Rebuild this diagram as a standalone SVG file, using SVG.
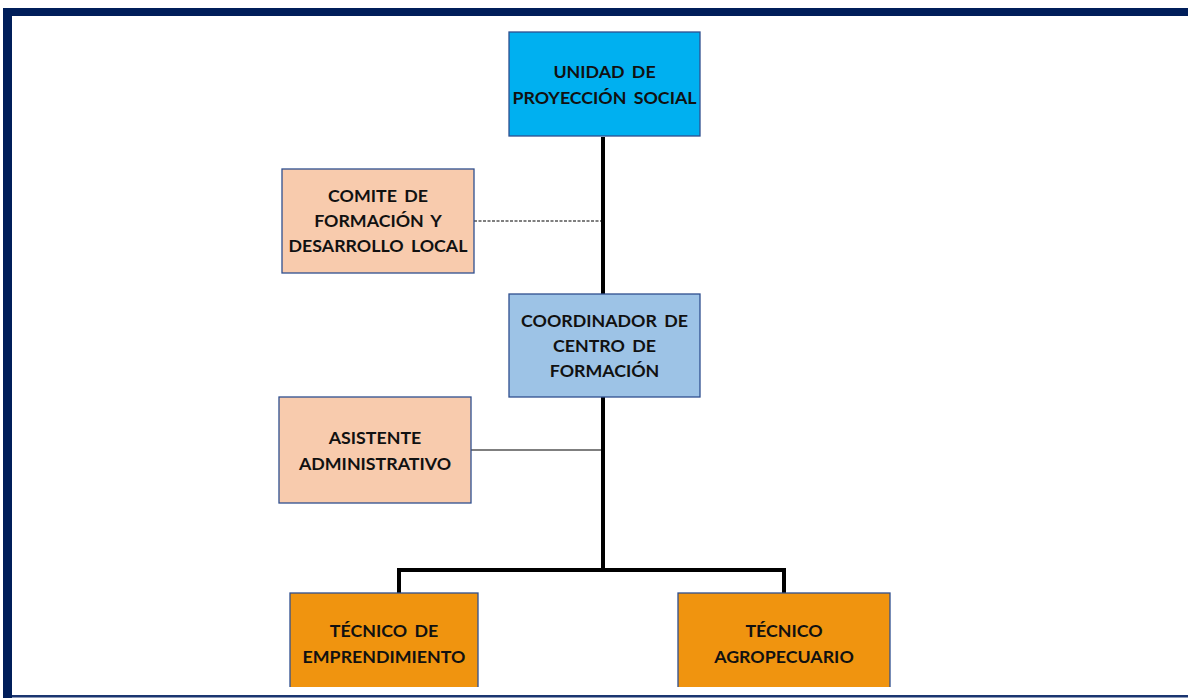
<svg xmlns="http://www.w3.org/2000/svg" width="1188" height="698" viewBox="0 0 1188 698">
<style>
.box{stroke:#2F4F8F;stroke-width:1.3}
.t{font-family:Lato,"Open Sans","Liberation Sans",sans-serif;font-weight:bold;font-size:17.8px;fill:#111;text-anchor:middle;word-spacing:3px}
.thick{stroke:#000;stroke-width:4;fill:none}
</style>
<rect x="0" y="0" width="1188" height="698" fill="#fff"/>
<g id="frame">
<rect x="3" y="8" width="1185" height="8" fill="#001E5A"/>
<rect x="3" y="8" width="9" height="690" fill="#001E5A"/>
<rect x="12" y="695" width="1176" height="2.5" fill="#1A3570"/>
</g>
<g id="connectors">
<line class="thick" x1="603" y1="137" x2="603" y2="294"/>
<line class="thick" x1="603" y1="397" x2="603" y2="570"/>
<polyline class="thick" points="399,593 399,570 784,570 784,593"/>
<line x1="474" y1="221" x2="601" y2="221" stroke="#7F7F7F" stroke-width="2.2" stroke-dasharray="3,1.5"/>
<line x1="471" y1="450" x2="601" y2="450" stroke="#555" stroke-width="1.5"/>
</g>
<g id="n1">
<rect class="box" x="509" y="32" width="191" height="104" fill="#00B0F0"/>
<text class="t" x="604.5" y="78">UNIDAD DE</text>
<text class="t" x="604.5" y="104">PROYECCIÓN SOCIAL</text>
</g>
<g id="n2">
<rect class="box" x="282" y="169" width="192" height="104" fill="#F8CBAD"/>
<text class="t" x="378" y="202">COMITE DE</text>
<text class="t" x="378" y="227">FORMACIÓN Y</text>
<text class="t" x="378" y="252">DESARROLLO LOCAL</text>
</g>
<g id="n3">
<rect class="box" x="509" y="294" width="191" height="103" fill="#9DC3E6"/>
<text class="t" x="604.5" y="327">COORDINADOR DE</text>
<text class="t" x="604.5" y="352">CENTRO DE</text>
<text class="t" x="604.5" y="377">FORMACIÓN</text>
</g>
<g id="n4">
<rect class="box" x="279" y="397" width="192" height="106" fill="#F8CBAD"/>
<text class="t" x="375" y="444">ASISTENTE</text>
<text class="t" x="375" y="470">ADMINISTRATIVO</text>
</g>
<g id="n5">
<rect class="box" x="290" y="593" width="188" height="100" fill="#F0940F"/>
<text class="t" x="384" y="637">TÉCNICO DE</text>
<text class="t" x="384" y="663">EMPRENDIMIENTO</text>
</g>
<g id="n6">
<rect class="box" x="678" y="593" width="212" height="100" fill="#F0940F"/>
<text class="t" x="784" y="637">TÉCNICO</text>
<text class="t" x="784" y="663">AGROPECUARIO</text>
</g>
<rect x="12" y="687" width="1176" height="8" fill="#fff"/>
</svg>
